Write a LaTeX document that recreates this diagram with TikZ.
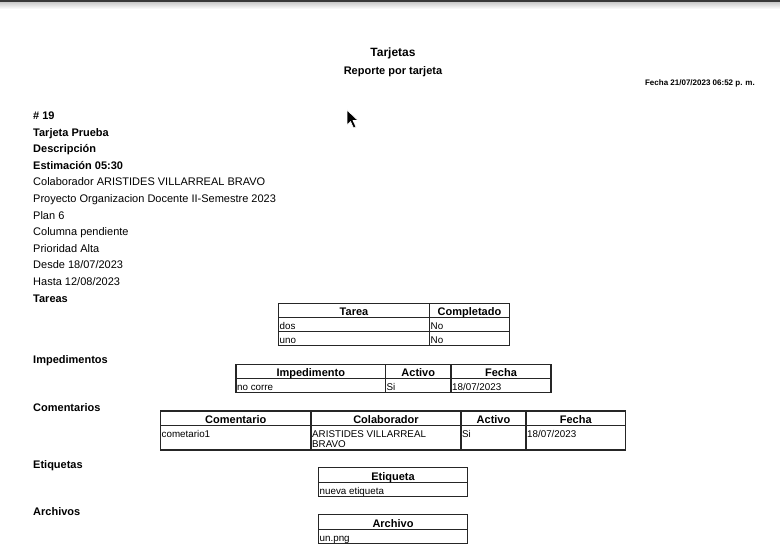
\documentclass[tikz,border=0pt]{standalone}
\usepackage{fontspec}
\setmainfont{Liberation Sans}
\tikzset{
	lbl/.style={anchor=base west, inner sep=0pt, font=\fontsize{11}{13}\selectfont},
	blbl/.style={lbl, font=\fontsize{11}{13}\selectfont\bfseries},
	hdr/.style={anchor=base, inner sep=0pt, font=\fontsize{11}{12}\selectfont\bfseries},
	cell/.style={anchor=base west, inner sep=0pt, font=\fontsize{9.8}{10}\selectfont},
	tbl/.style={line width=1.3pt, draw=black!85}
}
\begin{document}
\begin{tikzpicture}[x=1pt,y=-1pt]
	\useasboundingbox (0,0) rectangle (780,559);
	\fill[white] (0,0) rectangle (780,559);

	%browser bar and cursor
	\fill[black!78] (0,0) rectangle (780,3);
	\shade[top color=black!18, bottom color=white] (0,3) rectangle (780,9);
	\filldraw[fill=black, draw=white, line width=0.6pt] (347,110) -- (347,125) -- (350.5,121.5) -- (353.5,128) -- (356,127) -- (353,120.5) -- (358,120.5) -- cycle;

	%title
	\node[anchor=base, inner sep=0pt, font=\fontsize{12}{14}\selectfont\bfseries] (titulo) at (393,57) {Tarjetas};
	\node[anchor=base, inner sep=0pt, font=\fontsize{11}{13}\selectfont\bfseries] (subtitulo) at (393,74.5) {Reporte por tarjeta};
	\node[anchor=base east, inner sep=0pt, font=\fontsize{8}{9}\selectfont\bfseries] (fecha) at (755,85.5) {Fecha 21/07/2023 06:52 p. m.};

	%card data
	\node[blbl] (num) at (33,120) {\# 19};
	\node[blbl] (nombre) at (33,136.5) {Tarjeta Prueba};
	\node[blbl] (desc) at (33,153) {Descripción};
	\node[blbl] (estim) at (33,169.5) {Estimación 05:30};
	\node[lbl] (colab) at (33,186) {Colaborador ARISTIDES VILLARREAL BRAVO};
	\node[lbl] (proy) at (33,202.5) {Proyecto Organizacion Docente II-Semestre 2023};
	\node[lbl] (plan) at (33,219) {Plan 6};
	\node[lbl] (col) at (33,235.5) {Columna pendiente};
	\node[lbl] (prio) at (33,252) {Prioridad Alta};
	\node[lbl] (desde) at (33,268.5) {Desde 18/07/2023};
	\node[lbl] (hasta) at (33,285) {Hasta 12/08/2023};

	%tareas
	\node[blbl] (tareas) at (33,302.5) {Tareas};
	\draw[tbl] (278.5,303.5) rectangle (509.5,345.5);
	\draw[tbl] (278.5,317.5) -- (509.5,317.5);
	\draw[tbl] (278.5,331.5) -- (509.5,331.5);
	\draw[tbl] (429.5,303.5) -- (429.5,345.5);
	\node[hdr] (tareaH) at (354,315.5) {Tarea};
	\node[hdr] (complH) at (469.5,315.5) {Completado};
	\node[cell] (t1) at (279.5,329) {dos};
	\node[cell] (t1c) at (430.5,329) {No};
	\node[cell] (t2) at (279.5,343) {uno};
	\node[cell] (t2c) at (430.5,343) {No};

	%impedimentos
	\node[blbl] (imped) at (33,363.5) {Impedimentos};
	\draw[tbl] (236,364.5) rectangle (551,392.5);
	\draw[tbl] (236,378.5) -- (551,378.5);
	\draw[tbl] (385.5,364.5) -- (385.5,392.5);
	\draw[tbl] (451,364.5) -- (451,392.5);
	\node[hdr] (impH) at (310.75,376.5) {Impedimento};
	\node[hdr] (actH) at (418.25,376.5) {Activo};
	\node[hdr] (fecH) at (501,376.5) {Fecha};
	\node[cell] (i1) at (237,390) {no corre};
	\node[cell] (i1a) at (386.5,390) {Si};
	\node[cell] (i1f) at (452,390) {18/07/2023};

	%comentarios
	\node[blbl] (coment) at (33,411.5) {Comentarios};
	\draw[tbl] (160.5,411) rectangle (625.5,450);
	\draw[tbl] (160.5,425.5) -- (625.5,425.5);
	\draw[tbl] (311,411) -- (311,450);
	\draw[tbl] (461,411) -- (461,450);
	\draw[tbl] (526,411) -- (526,450);
	\node[hdr] (comH) at (235.75,423.5) {Comentario};
	\node[hdr] (colH) at (386,423.5) {Colaborador};
	\node[hdr] (cactH) at (493.5,423.5) {Activo};
	\node[hdr] (cfecH) at (575.75,423.5) {Fecha};
	\node[cell] (c1) at (161.5,437.5) {cometario1};
	\node[cell] (c1c) at (312,437.5) {ARISTIDES VILLARREAL};
	\node[cell] (c1cb) at (312,447.5) {BRAVO};
	\node[cell] (c1a) at (462,437.5) {Si};
	\node[cell] (c1f) at (527,437.5) {18/07/2023};

	%etiquetas
	\node[blbl] (etiq) at (33,468.5) {Etiquetas};
	\draw[tbl] (318.5,467.5) rectangle (467.5,496.5);
	\draw[tbl] (318.5,482.5) -- (467.5,482.5);
	\node[hdr] (etiqH) at (393,480.5) {Etiqueta};
	\node[cell] (e1) at (319.5,494) {nueva etiqueta};

	%archivos
	\node[blbl] (arch) at (33,515.5) {Archivos};
	\draw[tbl] (318.5,514.5) rectangle (467.5,543.5);
	\draw[tbl] (318.5,529.5) -- (467.5,529.5);
	\node[hdr] (archH) at (393,527.5) {Archivo};
	\node[cell] (a1) at (319.5,541) {un.png};
\end{tikzpicture}
\end{document}
